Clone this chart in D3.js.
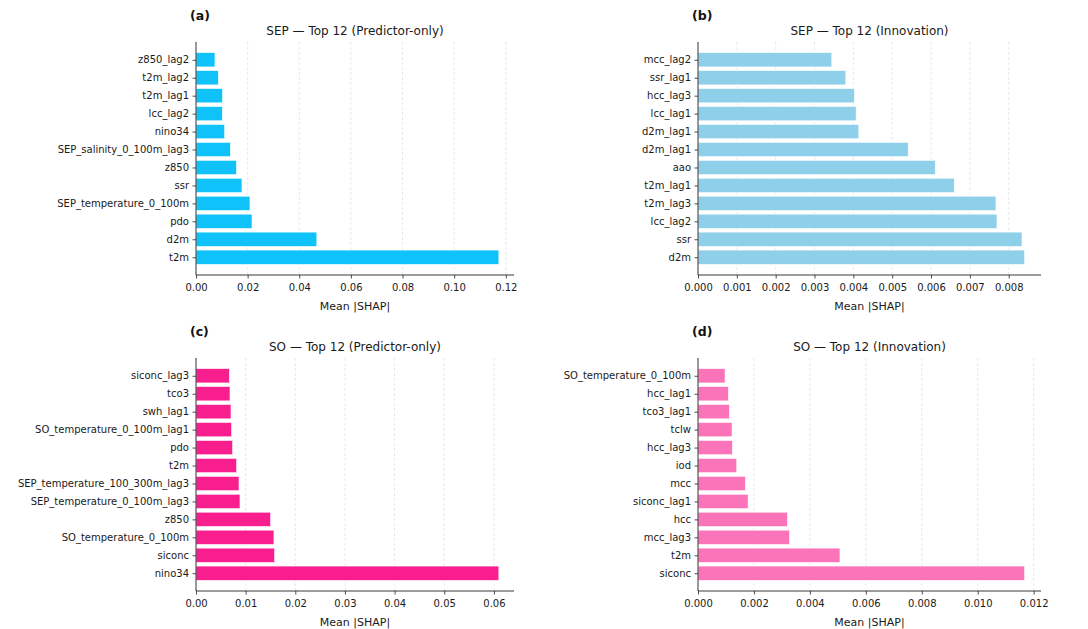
<!DOCTYPE html>
<html>
<head>
<meta charset="utf-8">
<script src="https://cdn.jsdelivr.net/npm/d3@7"></script>
<style>
  html, body { margin: 0; padding: 0; background: #fff; }
  svg { display: block; font-family: "DejaVu Sans", sans-serif; }
</style>
</head>
<body>
<svg id="chart" width="1088" height="629"></svg>
<script>
// Features listed from the bottom bar (index 0) to the top bar
const sepPredLabels = ["t2m", "d2m", "pdo", "SEP_temperature_0_100m", "ssr", "z850",
  "SEP_salinity_0_100m_lag3", "nino34", "lcc_lag2", "t2m_lag1", "t2m_lag2", "z850_lag2"];
const sepPredValues = [0.1173, 0.0468, 0.0217, 0.0209, 0.0178, 0.0157,
  0.0133, 0.0111, 0.0102, 0.0103, 0.00865, 0.00735];

const sepInnovLabels = ["d2m", "ssr", "lcc_lag2", "t2m_lag3", "t2m_lag1", "aao",
  "d2m_lag1", "d2m_lag1", "lcc_lag1", "hcc_lag3", "ssr_lag1", "mcc_lag2"];
const sepInnovValues = [0.008411, 0.008342, 0.007698, 0.007672, 0.006598, 0.006108,
  0.005412, 0.004141, 0.004072, 0.004029, 0.003806, 0.003445];

const soPredLabels = ["nino34", "siconc", "SO_temperature_0_100m", "z850",
  "SEP_temperature_0_100m_lag3", "SEP_temperature_100_300m_lag3", "t2m", "pdo",
  "SO_temperature_0_100m_lag1", "swh_lag1", "tco3", "siconc_lag3"];
const soPredValues = [0.0610, 0.01584, 0.0157, 0.01503, 0.00886, 0.00866,
  0.00819, 0.00738, 0.00718, 0.00705, 0.00685, 0.00671];

const soInnovLabels = ["siconc", "t2m", "mcc_lag3", "hcc", "siconc_lag1", "mcc",
  "iod", "hcc_lag3", "tclw", "tco3_lag1", "hcc_lag1", "SO_temperature_0_100m"];
const soInnovValues = [0.011678, 0.005075, 0.003272, 0.0032, 0.001791, 0.001696,
  0.001385, 0.00123, 0.001218, 0.001122, 0.001087, 0.000967];

const panelTags = ["(a)", "(b)", "(c)", "(d)"];
const panelTitles = ["SEP — Top 12 (Predictor-only)", "SEP — Top 12 (Innovation)",
  "SO — Top 12 (Predictor-only)", "SO — Top 12 (Innovation)"];
const xTickValues = [
  [0, 0.02, 0.04, 0.06, 0.08, 0.10, 0.12],
  [0, 0.001, 0.002, 0.003, 0.004, 0.005, 0.006, 0.007, 0.008],
  [0, 0.01, 0.02, 0.03, 0.04, 0.05, 0.06],
  [0, 0.002, 0.004, 0.006, 0.008, 0.010, 0.012]
];
const xTickFormats = [".2f", ".3f", ".2f", ".3f"];
const xLabel = "Mean |SHAP|";

const panelColors = ["#0fc3fa", "#8ecfea", "#f91e8e", "#fb73b8"];

const panels = [
  { labels: sepPredLabels, values: sepPredValues, box: [196, 42, 514, 275] },
  { labels: sepInnovLabels, values: sepInnovValues, box: [698, 42, 1041, 275] },
  { labels: soPredLabels, values: soPredValues, box: [196, 358, 514, 591] },
  { labels: soInnovLabels, values: soInnovValues, box: [698, 358, 1041, 591] }
];

const svg = d3.select("#chart");
const textColor = "#1a1a1a";

panels.forEach((p, i) => {
  const [x0, y0, x1, y1] = p.box;
  const n = p.values.length;
  const xMax = d3.max(p.values) * 1.05;
  const x = d3.scaleLinear().domain([0, xMax]).range([x0, x1]);
  const pad = (n - 0.2) * 0.05;
  const y = d3.scaleLinear().domain([-0.4 - pad, n - 0.6 + pad]).range([y1, y0]);
  const barH = y(0) - y(0.8);

  const g = svg.append("g");

  // dashed vertical grid
  g.append("g").selectAll("line")
    .data(xTickValues[i])
    .join("line")
    .attr("x1", d => x(d)).attr("x2", d => x(d))
    .attr("y1", y0).attr("y2", y1)
    .attr("stroke", "#b0b0b0")
    .attr("stroke-opacity", 0.35)
    .attr("stroke-width", 0.8)
    .attr("stroke-dasharray", "3,2");

  // bars
  g.append("g").selectAll("rect")
    .data(p.values)
    .join("rect")
    .attr("x", x(0))
    .attr("y", (d, k) => y(k + 0.4))
    .attr("width", d => x(d) - x(0))
    .attr("height", barH)
    .attr("fill", panelColors[i])
    .attr("stroke", "#ffffff")
    .attr("stroke-width", 0.6);

  // x axis
  const xAxis = d3.axisBottom(x)
    .tickValues(xTickValues[i])
    .tickFormat(d3.format(xTickFormats[i]))
    .tickSize(3.5)
    .tickPadding(5.5);
  const gx = g.append("g").attr("transform", `translate(0,${y1})`).call(xAxis);
  gx.select(".domain").attr("stroke", "#222").attr("stroke-width", 0.9)
    .attr("d", `M${x0},0H${x1}`);
  gx.selectAll(".tick line").attr("stroke", "#222").attr("stroke-width", 0.8);
  gx.selectAll(".tick text").attr("fill", textColor)
    .style("font-size", "10px").style("font-family", "DejaVu Sans");

  // y axis
  const yAxis = d3.axisLeft(y)
    .tickValues(d3.range(n))
    .tickFormat(k => p.labels[k])
    .tickSize(3.5)
    .tickPadding(3.5);
  const gy = g.append("g").attr("transform", `translate(${x0},0)`).call(yAxis);
  gy.select(".domain").attr("stroke", "#222").attr("stroke-width", 0.9)
    .attr("d", `M0,${y0}V${y1}`);
  gy.selectAll(".tick line").attr("stroke", "#222").attr("stroke-width", 0.8);
  gy.selectAll(".tick text").attr("fill", textColor)
    .style("font-size", "10px").style("font-family", "DejaVu Sans");

  // x label
  g.append("text")
    .attr("x", (x0 + x1) / 2)
    .attr("y", y1 + 35)
    .attr("text-anchor", "middle")
    .attr("fill", textColor)
    .style("font-size", "11px")
    .text(xLabel);

  // title
  g.append("text")
    .attr("x", (x0 + x1) / 2)
    .attr("y", y0 - 7)
    .attr("text-anchor", "middle")
    .attr("fill", textColor)
    .style("font-size", "12px")
    .text(panelTitles[i]);

  // panel tag
  g.append("text")
    .attr("x", x0 - 6)
    .attr("y", y0 - 22)
    .attr("fill", "#111")
    .style("font-size", "12.5px")
    .style("font-weight", "bold")
    .text(panelTags[i]);
});
</script>
</body>
</html>
